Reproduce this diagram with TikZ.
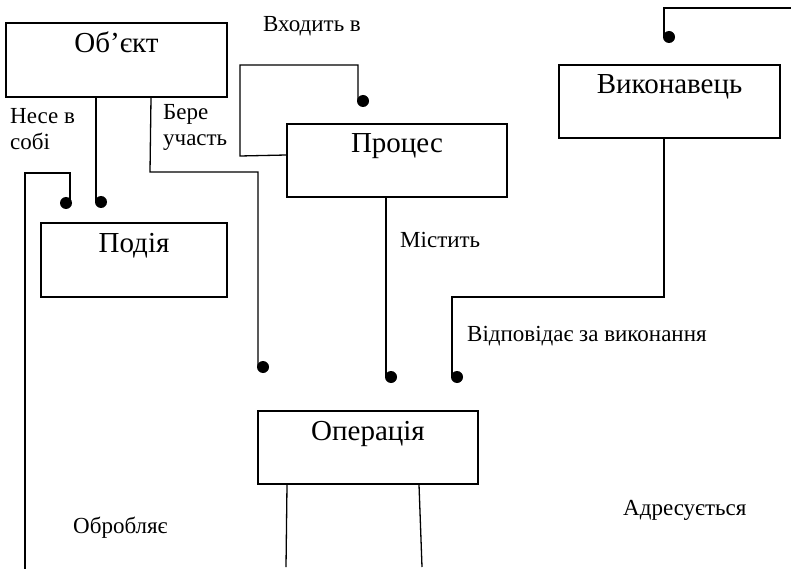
\documentclass[tikz,border=0pt]{standalone}
\usepackage{fontspec}
\setmainfont{Liberation Serif}
\usetikzlibrary{calc}
\tikzset{
  box/.style={draw, line width=1.4pt, rectangle, inner sep=0pt},
  title/.style={font=\fontsize{29}{31}\selectfont, anchor=base, inner sep=0pt},
  lbl/.style={font=\fontsize{23}{25}\selectfont, anchor=base west, inner sep=0pt},
  dot/.style={circle, fill=black, draw=none, minimum size=12pt, inner sep=0pt},
  conn/.style={line width=1.3pt}
}
\begin{document}
\begin{tikzpicture}[x=1pt, y=-1pt]
\useasboundingbox (0,0) rectangle (791,569);
% boxes
\node[box, minimum width=221pt, minimum height=74pt] (obj) at (116.5,60) {};
\node[box, minimum width=220pt, minimum height=73pt] (proc) at (397,160.5) {};
\node[box, minimum width=221pt, minimum height=73pt] (exec) at (669.5,101.5) {};
\node[box, minimum width=186pt, minimum height=74pt] (event) at (134,260) {};
\node[box, minimum width=220pt, minimum height=73pt] (oper) at (368,447.5) {};
% titles
\node[title] (objT) at ([yshift=-30pt]obj.north) {Об’єкт};
\node[title] (procT) at ([yshift=-29pt]proc.north) {Процес};
\node[title] (execT) at ([yshift=-29pt]exec.north) {Виконавець};
\node[title] (eventT) at ([yshift=-30pt]event.north) {Подія};
\node[title] (operT) at ([yshift=-30pt]oper.north) {Операція};
% dots
\node[dot] (d1) at (66,203) {};
\node[dot] (d2) at (101,202) {};
\node[dot] (dA) at (263,367) {};
\node[dot] (dB) at (363,101) {};
\node[dot] (dC) at (391,377) {};
\node[dot] (dD) at (457,377) {};
\node[dot] (dE) at (669,37) {};
% free ends
\coordinate (lb) at (25,569);
\coordinate (ob1) at (286,567);
\coordinate (ob2) at (422,567);
\coordinate (er) at (791,8);
% connectors
\draw[conn] (lb) -- (25,173) -- (70,173) -- (70,203) -- (d1.center);
\draw[conn] (obj.south -| 96,0) -- (96,202) -- (d2.center);
\draw[conn] (obj.south -| 151,0) -- (150,172) -- (258,172) -- (258,367) -- (dA.center);
\draw[conn] (proc.west |- 0,155) -- (240,156) -- (240,65) -- (358,65) -- (358,101) -- (dB.center);
\draw[conn] (proc.south -| 386,0) -- (386,377) -- (dC.center);
\draw[conn] (exec.south -| 664,0) -- (664,297) -- (452,297) -- (452,377) -- (dD.center);
\draw[conn] (er) -- (664,8) -- (664,37) -- (dE.center);
\draw[conn] (oper.south -| 287,0) -- (ob1);
\draw[conn] (oper.south -| 419,0) -- (ob2);
% labels
\node[lbl] (l1) at (263,32) {Входить в};
\node[lbl] (l2) at (10,124) {Несе в};
\node[lbl] (l3) at (10,150) {собі};
\node[lbl] (l4) at (163,120) {Бере};
\node[lbl] (l5) at (163,146) {участь};
\node[lbl] (l6) at (400,247) {Містить};
\node[lbl] (l7) at (467,341) {Відповідає за виконання};
\node[lbl] (l8) at (623,515) {Адресується};
\node[lbl] (l9) at (73,533) {Обробляє};
\end{tikzpicture}
\end{document}
